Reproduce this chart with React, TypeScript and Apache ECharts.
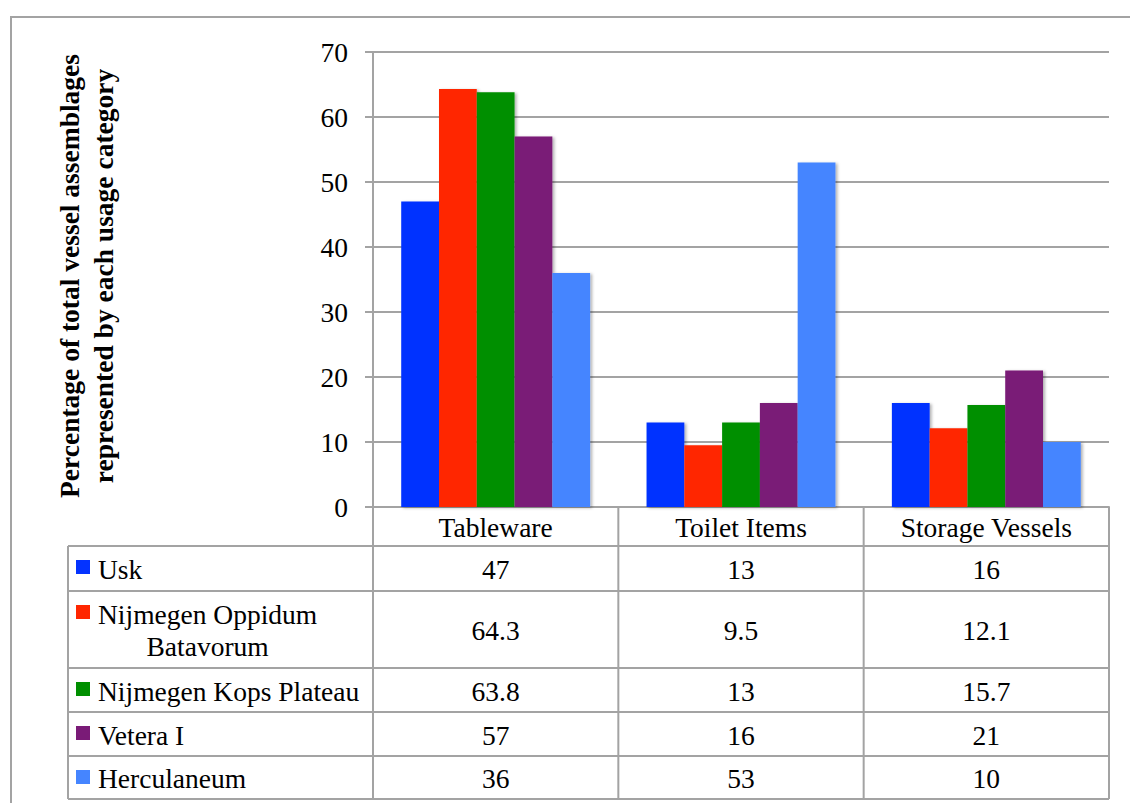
import React, { useEffect, useRef } from 'react';
import * as echarts from 'echarts';

// ---- data ----
const categories = ['Tableware', 'Toilet Items', 'Storage Vessels'];
const siteNames = ['Usk', 'Nijmegen Oppidum Batavorum', 'Nijmegen Kops Plateau', 'Vetera I', 'Herculaneum'];
const usk = [47, 13, 16];
const nijmegenOppidumBatavorum = [64.3, 9.5, 12.1];
const nijmegenKopsPlateau = [63.8, 13, 15.7];
const veteraI = [57, 16, 21];
const herculaneum = [36, 53, 10];
const yMin = 0;
const yMax = 70;
const yInterval = 10;
const yAxisTitle = 'Percentage of total vessel assemblages\nrepresented by each usage category';

const seriesValues = [usk, nijmegenOppidumBatavorum, nijmegenKopsPlateau, veteraI, herculaneum];

// ---- style / layout ----
const colors = ['#0433FF', '#FF2600', '#008F00', '#7A1B77', '#4585FF'];
const FONT = '"Liberation Serif", "Times New Roman", serif';
const FS = 27.5;
const LINE = '#A3A3A3';
const LW = 2;
const W = 1130;
const H = 803;
const gridL = 373;
const gridT = 52;
const gridR = 1109;
const gridB = 507;
const tableL = 68;
const headerB = 546;
const rowHeights = [45, 77, 44, 44, 43];
const keyX = 76;
const keyTextX = 98;
const wrapWidth = 262;

export default function App() {
  const ref = useRef<HTMLDivElement>(null);

  useEffect(() => {
    if (!ref.current) return;
    const chart = echarts.init(ref.current, undefined, { renderer: 'svg' });

    chart.setOption({
      animation: false,
      backgroundColor: '#fff',
      grid: { left: gridL, top: gridT, width: gridR - gridL, height: gridB - gridT, containLabel: false },
      xAxis: {
        type: 'category',
        data: categories,
        axisLabel: { show: false },
        axisTick: { show: false },
        axisLine: { show: true, lineStyle: { color: LINE, width: LW } },
      },
      yAxis: {
        type: 'value',
        min: yMin,
        max: yMax,
        interval: yInterval,
        axisLine: { show: true, lineStyle: { color: LINE, width: LW } },
        axisTick: { show: true, length: 8, lineStyle: { color: LINE, width: LW } },
        axisLabel: { margin: 25, color: '#000', fontFamily: FONT, fontSize: FS },
        splitLine: { show: true, lineStyle: { color: LINE, width: LW } },
      },
      series: siteNames.map((name, i) => ({
        type: 'bar',
        name,
        data: seriesValues[i],
        barGap: '0%',
        barCategoryGap: '23%',
        itemStyle: {
          color: colors[i],
          shadowBlur: 3,
          shadowColor: 'rgba(0,0,0,0.3)',
          shadowOffsetX: 2,
          shadowOffsetY: 1,
        },
      })),
    });

    const band = (gridR - gridL) / categories.length;
    const colCenters = categories.map((c) => chart.convertToPixel({ xAxisIndex: 0 }, c) as number);
    const colBounds = categories.map((_, i) => gridL + i * band).concat([gridR]);

    const rowTops: number[] = [];
    let acc = headerB;
    rowHeights.forEach((h) => {
      rowTops.push(acc);
      acc += h;
    });
    const tableB = acc;

    const ctx = document.createElement('canvas').getContext('2d')!;
    ctx.font = `${FS}px ${FONT}`;

    const els: any[] = [];
    const line = (x1: number, y1: number, x2: number, y2: number) =>
      els.push({ type: 'line', shape: { x1, y1, x2, y2 }, style: { stroke: LINE, lineWidth: LW }, z: 10 });

    // outer frame
    els.push({
      type: 'rect',
      shape: { x: 11, y: 17, width: 1300, height: 1000 },
      style: { fill: 'none', stroke: LINE, lineWidth: LW },
      z: 10,
    });

    // y-axis title
    els.push({
      type: 'text',
      x: 86,
      y: 276,
      rotation: Math.PI / 2,
      style: {
        text: yAxisTitle,
        fontFamily: FONT,
        fontSize: FS,
        fontWeight: 'bold',
        lineHeight: 34,
        align: 'center',
        verticalAlign: 'middle',
        fill: '#000',
      },
      z: 10,
    });

    // header row
    categories.forEach((c, j) => {
      els.push({
        type: 'text',
        x: colCenters[j],
        y: (gridB + headerB) / 2 + 1,
        style: { text: c, fontFamily: FONT, fontSize: FS, align: 'center', verticalAlign: 'middle', fill: '#000' },
        z: 10,
      });
    });

    // grid lines of the table
    line(tableL, headerB, gridR, headerB);
    rowTops.forEach((t, i) => line(tableL, t + rowHeights[i], gridR, t + rowHeights[i]));
    line(tableL, headerB, tableL, tableB);
    colBounds.forEach((x) => line(x, gridB, x, tableB));

    // rows
    siteNames.forEach((name, i) => {
      const top = rowTops[i];
      const h = rowHeights[i];
      const cy = top + h / 2;
      els.push({
        type: 'rect',
        shape: { x: keyX, y: top + 14, width: 14, height: 14 },
        style: { fill: colors[i] },
        z: 10,
      });
      const wide = ctx.measureText(name).width > wrapWidth;
      if (wide) {
        const words = name.split(' ');
        const lines: string[] = [];
        let cur = '';
        words.forEach((w) => {
          const test = cur ? cur + ' ' + w : w;
          if (ctx.measureText(test).width > wrapWidth && cur) {
            lines.push(cur);
            cur = w;
          } else cur = test;
        });
        if (cur) lines.push(cur);
        const firstW = ctx.measureText(lines[0]).width;
        els.push({
          type: 'text',
          x: keyTextX + firstW / 2,
          y: cy + 1,
          style: {
            text: lines.join('\n'),
            fontFamily: FONT,
            fontSize: FS,
            lineHeight: 32,
            align: 'center',
            verticalAlign: 'middle',
            fill: '#000',
          },
          z: 10,
        });
      } else {
        els.push({
          type: 'text',
          x: keyTextX,
          y: cy + 1,
          style: { text: name, fontFamily: FONT, fontSize: FS, align: 'left', verticalAlign: 'middle', fill: '#000' },
          z: 10,
        });
      }
      seriesValues[i].forEach((v, j) => {
        els.push({
          type: 'text',
          x: colCenters[j],
          y: cy + 1,
          style: { text: String(v), fontFamily: FONT, fontSize: FS, align: 'center', verticalAlign: 'middle', fill: '#000' },
          z: 10,
        });
      });
    });

    chart.setOption({ graphic: { elements: els } });

    return () => chart.dispose();
  }, []);

  return <div ref={ref} style={{ position: 'fixed', left: 0, top: 0, width: W, height: H, background: '#fff' }} />;
}
